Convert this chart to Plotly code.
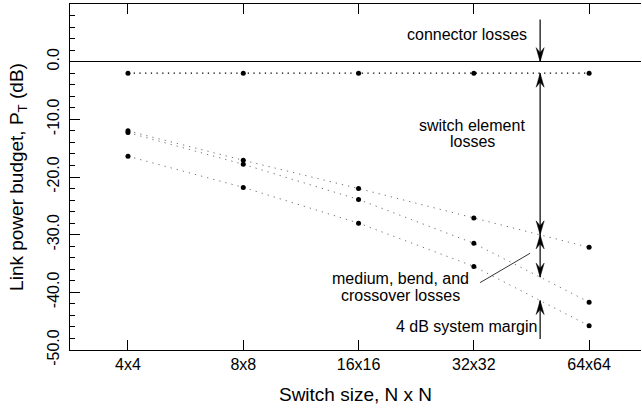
import plotly.graph_objects as go
import numpy as np

# ---- data ----
switch_sizes = ["4x4", "8x8", "16x16", "32x32", "64x64"]
connector_level = [-2.0, -2.0, -2.0, -2.0, -2.0]
after_switch_elements = [-12.0, -17.1, -22.0, -27.1, -32.2]
after_medium_losses = [-12.3, -17.8, -23.9, -31.5, -41.7]
with_system_margin = [-16.4, -21.8, -28.0, -35.5, -45.8]
y_tick_vals = [-50, -40, -30, -20, -10, 0]
y_tick_text = ["-50.0", "-40.0", "-30.0", "-20.0", "-10.0", "0.0"]

xi = list(range(len(switch_sizes)))
FONT = "Liberation Sans, Arial, Helvetica, sans-serif"
FS = 16

fig = go.Figure()
fig.add_trace(go.Scatter(x=xi, y=connector_level, mode="lines+markers",
                         line=dict(color="black", width=1.2, dash="1.3px,4.4px"),
                         marker=dict(color="black", size=5), showlegend=False))
for ys in (after_switch_elements, after_medium_losses, with_system_margin):
    fig.add_trace(go.Scatter(x=xi, y=ys, mode="lines+markers",
                             line=dict(color="#777777", width=1, dash="1.3px,5px"),
                             marker=dict(color="black", size=5), showlegend=False))

# arrow position between 32x32 and 64x64
ax_x = 3.575
def at_arrow(vals):
    return float(np.interp(ax_x, xi, vals))

y_s1 = at_arrow(after_switch_elements)
y_s2 = at_arrow(after_medium_losses)
y_s3 = at_arrow(with_system_margin)
y_conn = connector_level[0]
top_y = 7.3
bot_y = -48.1

shapes = []
def vline(y0, y1):
    shapes.append(dict(type="line", xref="x", yref="y", x0=ax_x, x1=ax_x, y0=y0, y1=y1,
                       line=dict(color="black", width=1.2)))
def head(y, down):
    s = 1 if down else -1
    shapes.append(dict(type="path", xref="x", yref="y", xsizemode="pixel", ysizemode="pixel",
                       xanchor=ax_x, yanchor=y,
                       path=f"M0,0 L-4,{14*s} L0,{9*s} L4,{14*s} Z",
                       fillcolor="black", line=dict(color="black", width=0.5)))

vline(top_y, 0); head(0, True)
vline(y_conn, y_s1); head(y_conn, False); head(y_s1, True)
vline(y_s1, y_s2); head(y_s1, False); head(y_s2, True)
vline(bot_y, y_s3); head(y_s3, False)
# leader line for medium label
shapes.append(dict(type="line", xref="x", yref="y", x0=3.054, y0=-38.32, x1=3.488, y1=-33.22,
                   line=dict(color="black", width=0.8)))

ann = []
def label(text, x, y):
    ann.append(dict(text=text, x=x, y=y, xref="x", yref="y", showarrow=False,
                    font=dict(family=FONT, size=FS, color="black"),
                    xanchor="center", yanchor="middle"))
label("connector losses", 2.94, 4.68)
label("switch element", 2.985, -11.15)
label("losses", 2.985, -13.9)
label("medium, bend, and", 2.364, -37.68)
label("crossover losses", 2.364, -40.63)
label("4 dB system margin", 2.939, -46.0)

fig.update_layout(
    width=642, height=410,
    margin=dict(l=70, r=1, t=4, b=60, autoexpand=False),
    paper_bgcolor="white", plot_bgcolor="white",
    font=dict(family=FONT, size=FS, color="black"),
    shapes=shapes, annotations=ann,
    xaxis=dict(range=[-0.503, 4.45], tickmode="array", tickvals=xi, ticktext=switch_sizes,
               ticks="inside", ticklen=10, tickcolor="black", tickwidth=1,
               showline=True, linecolor="black", linewidth=1, mirror="ticks",
               showgrid=False, zeroline=False, automargin=False,
               title=dict(text="Switch size, N x N")),
    yaxis=dict(range=[-50, 10], tickmode="array", tickvals=y_tick_vals, ticktext=y_tick_text,
               tickangle=-90, ticks="inside", ticklen=10, tickcolor="black", tickwidth=1,
               ticklabelstandoff=4,
               minor=dict(tickmode="linear", tick0=0, dtick=2, ticks="inside", ticklen=5,
                          tickcolor="black", tickwidth=1),
               showline=True, linecolor="black", linewidth=1, mirror=False,
               showgrid=False, zeroline=True, zerolinecolor="black", zerolinewidth=1.2,
               automargin=False,
               title=dict(text="Link power budget, P<sub>T</sub> (dB)")),
    yaxis2=dict(range=[-50, 10], overlaying="y", side="right", tickmode="array",
                tickvals=y_tick_vals, ticks="inside", ticklen=5, tickcolor="black",
                showticklabels=False, showline=False, showgrid=False, zeroline=False,
                automargin=False),
)
fig.write_html("out.html", config={"displayModeBar": False},
               post_script="document.body.style.margin='0';document.body.style.padding='0';")
